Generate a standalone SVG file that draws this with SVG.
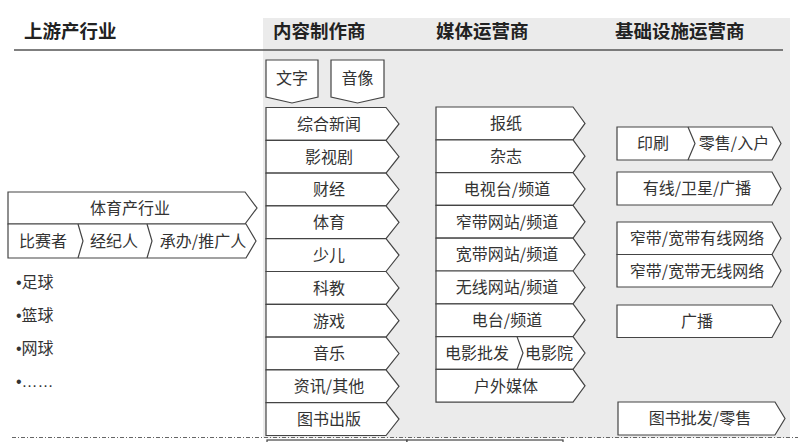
<svg xmlns="http://www.w3.org/2000/svg" width="801" height="442" viewBox="0 0 801 442">
<style>
.bx{fill:#fff;stroke:#444;stroke-width:1.2;stroke-linejoin:miter}
.dv{fill:none;stroke:#444;stroke-width:1.2}
.t{font-family:"Noto Sans CJK SC","Noto Sans",sans-serif;font-size:16px;fill:#333;text-anchor:middle}
.tl{font-family:"Noto Sans CJK SC","Noto Sans",sans-serif;font-size:16px;fill:#333}
.bl{font-family:"Liberation Sans",sans-serif}
.h{font-family:"Noto Sans CJK SC","Noto Sans",sans-serif;font-size:18.5px;font-weight:bold;fill:#222}
</style>
<rect width="801" height="442" fill="#fff"/>
<rect x="263" y="18" width="527" height="420" fill="#ebebeb"/>
<g id="headers">
<text class="h" x="24" y="38">上游产行业</text>
<text class="h" x="273" y="38">内容制作商</text>
<text class="h" x="436" y="38">媒体运营商</text>
<text class="h" x="615" y="38">基础设施运营商</text>
</g>
<g id="connectors">
<line x1="14" y1="50" x2="783" y2="50" stroke="#555" stroke-width="1.3"/>
<line x1="12" y1="437.5" x2="798" y2="437.5" stroke="#666" stroke-width="1" stroke-dasharray="4 2 1 2"/>
</g>
<g id="upstream">
<path class="bx" d="M8 192H245L257 208L245 224H8Z"/>
<text class="t" x="130" y="214">体育产行业</text>
<path class="bx" d="M8 224H246L256 241L246 258H8Z"/>
<path class="dv" d="M78 224L83 241L78 258M147 224L152 241L147 258"/>
<text class="t" x="43" y="247">比赛者</text>
<text class="t" x="114" y="247">经纪人</text>
<text class="t" x="203" y="247">承办/推广人</text>
<text class="tl" x="16" y="288"><tspan class="bl">•</tspan>足球</text>
<text class="tl" x="16" y="321"><tspan class="bl">•</tspan>篮球</text>
<text class="tl" x="16" y="354"><tspan class="bl">•</tspan>网球</text>
<text class="tl bl" x="16" y="387">•……</text>
</g>
<g id="content">
<path class="bx" d="M266 60H318V97L292 103L266 97Z"/>
<text class="t" x="292" y="84">文字</text>
<path class="bx" d="M331 60H384V97L357.5 103L331 97Z"/>
<text class="t" x="357.5" y="84">音像</text>
<path class="bx" d="M266 107.5H386L399 123.9L386 140.3H266Z"/>
<text class="t" x="329" y="129.7">综合新闻</text>
<path class="bx" d="M266 140.3H386L399 156.7L386 173.1H266Z"/>
<text class="t" x="329" y="162.5">影视剧</text>
<path class="bx" d="M266 173.1H386L399 189.5L386 205.9H266Z"/>
<text class="t" x="329" y="195.3">财经</text>
<path class="bx" d="M266 205.9H386L399 222.3L386 238.7H266Z"/>
<text class="t" x="329" y="228.1">体育</text>
<path class="bx" d="M266 238.7H386L399 255.1L386 271.5H266Z"/>
<text class="t" x="329" y="260.9">少儿</text>
<path class="bx" d="M266 271.5H386L399 287.9L386 304.3H266Z"/>
<text class="t" x="329" y="293.7">科教</text>
<path class="bx" d="M266 304.3H386L399 320.7L386 337.1H266Z"/>
<text class="t" x="329" y="326.5">游戏</text>
<path class="bx" d="M266 337.1H386L399 353.5L386 369.9H266Z"/>
<text class="t" x="329" y="359.3">音乐</text>
<path class="bx" d="M266 369.9H386L399 386.3L386 402.7H266Z"/>
<text class="t" x="329" y="392.1">资讯/其他</text>
<path class="bx" d="M266 402.7H386L399 419.1L386 435.5H266Z"/>
<text class="t" x="329" y="424.9">图书出版</text>
</g>
<g id="media">
<path class="bx" d="M436 107H573L585 123.4L573 139.8H436Z"/>
<text class="t" x="506" y="129.2">报纸</text>
<path class="bx" d="M436 139.8H573L585 156.2L573 172.6H436Z"/>
<text class="t" x="506" y="162">杂志</text>
<path class="bx" d="M436 172.6H573L585 189L573 205.4H436Z"/>
<text class="t" x="507" y="194.8">电视台/频道</text>
<path class="bx" d="M436 205.4H573L585 221.8L573 238.2H436Z"/>
<text class="t" x="507" y="227.6">窄带网站/频道</text>
<path class="bx" d="M436 238.2H573L585 254.6L573 271H436Z"/>
<text class="t" x="507" y="260.4">宽带网站/频道</text>
<path class="bx" d="M436 271H573L585 287.4L573 303.8H436Z"/>
<text class="t" x="507" y="293.2">无线网站/频道</text>
<path class="bx" d="M436 303.8H573L585 320.2L573 336.6H436Z"/>
<text class="t" x="507" y="326">电台/频道</text>
<path class="bx" d="M436 336.6H573L585 353L573 369.4H436Z"/>
<path class="dv" d="M517 336.6L523 353L517 369.4"/>
<text class="t" x="477" y="358.8">电影批发</text>
<text class="t" x="549" y="358.8">电影院</text>
<path class="bx" d="M436 369.4H573L585 385.8L573 402.2H436Z"/>
<text class="t" x="506" y="391.6">户外媒体</text>
</g>
<g id="infra">
<path class="bx" d="M617 127H772L781 143.5L772 160H617Z"/>
<path class="dv" d="M688 127L695 143.5L688 160"/>
<text class="t" x="653" y="149.3">印刷</text>
<text class="t" x="734" y="149.3">零售/入户</text>
<path class="bx" d="M617 172H772L781 188.5L772 205H617Z"/>
<text class="t" x="697" y="194.3">有线/卫星/广播</text>
<path class="bx" d="M617 222H772L781 238.2L772 254.5H617Z"/>
<text class="t" x="697" y="244">窄带/宽带有线网络</text>
<path class="bx" d="M617 254.5H772L781 270.7L772 287H617Z"/>
<text class="t" x="697" y="276.5">窄带/宽带无线网络</text>
<path class="bx" d="M617 305H772L781 321.2L772 337.5H617Z"/>
<text class="t" x="697" y="327">广播</text>
<path class="bx" d="M618 402H775L785 418.5L775 435H618Z"/>
<text class="t" x="700" y="424.3">图书批发/零售</text>
</g>
<g id="bottom-cut">
<rect class="bx" x="267" y="440" width="140" height="10"/>
<rect class="bx" x="407" y="440" width="156" height="10"/>
</g>
</svg>
